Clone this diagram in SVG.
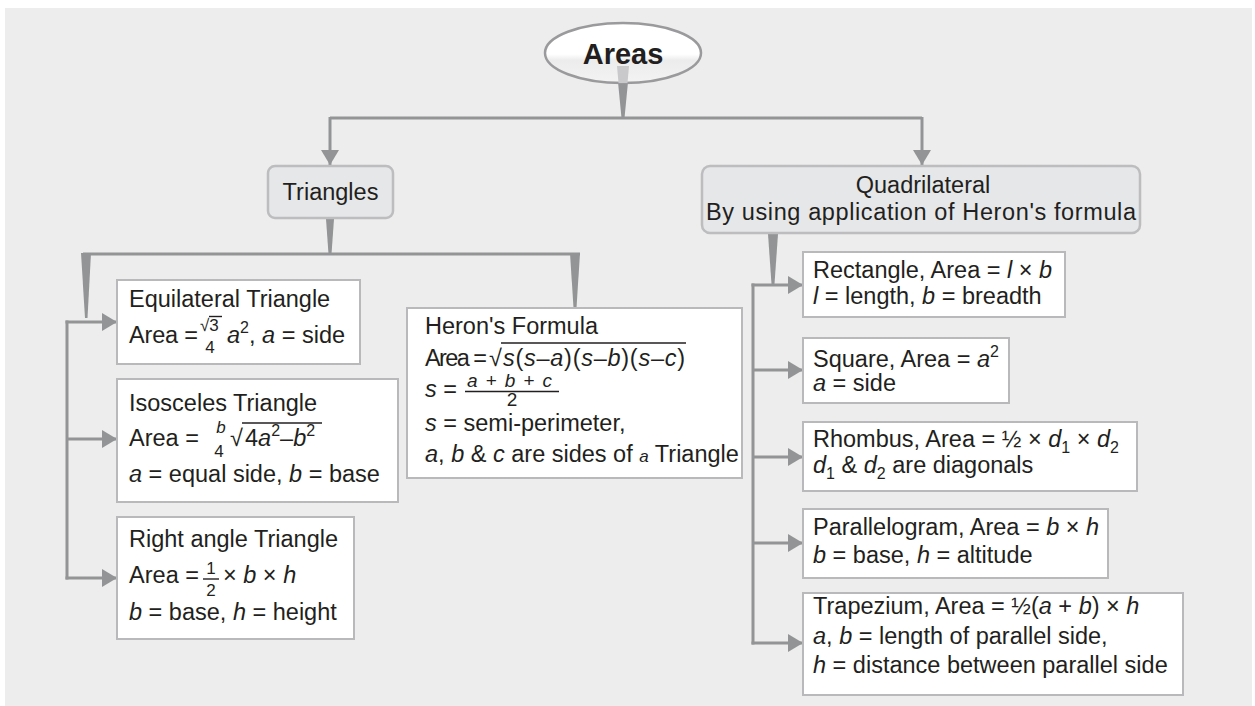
<svg xmlns="http://www.w3.org/2000/svg" width="1255" height="706" viewBox="0 0 1255 706">
  <style>
    .t { font-family: "Liberation Sans", Arial, Helvetica, sans-serif; font-size: 23.5px; fill: #231f20; }
    .i { font-style: italic; }
    .sm { font-size: 16px; }
    .fr { font-size: 17px; }
    .fr19 { font-size: 19px; }
    .root { font-size: 29px; font-weight: bold; }
    .box { fill: #ffffff; stroke: #b9b9bb; stroke-width: 2; }
    .rbox { fill: #e6e7e9; stroke: #bdbdbf; stroke-width: 2.5; }
    .ln { fill: none; stroke: #939496; stroke-width: 3; }
    .arr { fill: none; stroke: #939496; stroke-width: 3; marker-end: url(#head); }
    .wedge { fill: #939496; }
    .bar { stroke: #231f20; stroke-width: 1.4; }
  </style>
  <defs>
    <marker id="head" markerUnits="userSpaceOnUse" markerWidth="16" markerHeight="18" refX="15" refY="9" orient="auto">
      <path d="M0,0 L15,9 L0,18 Z" fill="#939496"/>
    </marker>
    <linearGradient id="gloss" x1="0" y1="0" x2="0" y2="1">
      <stop offset="0" stop-color="#ffffff"/>
      <stop offset="0.52" stop-color="#ffffff"/>
      <stop offset="0.62" stop-color="#ececec"/>
      <stop offset="1" stop-color="#f3f3f3"/>
    </linearGradient>
  </defs>

  <!-- panel -->
  <rect x="0" y="0" width="1255" height="706" fill="#ffffff"/>
  <rect x="5" y="8" width="1247" height="698" fill="#ededed"/>

  <!-- connectors -->
  <g id="connectors">
    <!-- root to level one -->
    <polygon class="wedge" points="618,82 628,82 624.5,118 621.5,118"/>
    <path class="ln" d="M330,118 H922"/>
    <path class="arr" d="M330,117 V165"/>
    <path class="arr" d="M922,117 V165"/>
    <!-- triangles branch -->
    <polygon class="wedge" points="326,219 334,219 331.5,254 328.5,254"/>
    <path class="ln" d="M83,254 H580"/>
    <polygon class="wedge" points="81,253 91,253 87.5,318 85,318"/>
    <polygon class="wedge" points="570,253 580,253 576.5,308 573.5,308"/>
    <path class="ln" d="M67,320.5 V579.5"/>
    <path class="arr" d="M65.5,322 H117"/>
    <path class="arr" d="M67,439 H117"/>
    <path class="arr" d="M65.5,578 H117"/>
    <!-- quadrilateral branch -->
    <polygon class="wedge" points="768,234 778,234 774.5,284 771.5,284"/>
    <path class="ln" d="M753,283.5 V644.5"/>
    <path class="arr" d="M751.5,285 H803"/>
    <path class="arr" d="M753,370 H803"/>
    <path class="arr" d="M753,457 H803"/>
    <path class="arr" d="M753,543 H803"/>
    <path class="arr" d="M751.5,643 H803"/>
  </g>

  <!-- root -->
  <g id="areas">
    <ellipse cx="623" cy="53" rx="78" ry="30" fill="url(#gloss)" stroke="#9a9a9c" stroke-width="2.5"/>
    <polygon points="617,66 629,66 627.5,83 618.5,83" fill="#c9c9cb"/>
    <text class="t root" x="623" y="64" text-anchor="middle">Areas</text>
  </g>

  <g id="triangles">
    <rect class="rbox" x="268" y="166" width="125" height="52" rx="7"/>
    <text class="t" x="330.5" y="200" text-anchor="middle">Triangles</text>
  </g>

  <g id="quadrilateral">
    <rect class="rbox" x="702" y="166" width="438" height="67" rx="8"/>
    <text class="t" x="923" y="193" text-anchor="middle">Quadrilateral</text>
    <text class="t" x="921" y="220" text-anchor="middle" textLength="430" lengthAdjust="spacing">By using application of Heron's formula</text>
  </g>

  <!-- triangle kinds -->
  <g id="equilateral">
    <rect class="box" x="117" y="280" width="243" height="84"/>
    <text class="t" x="129" y="307">Equilateral Triangle</text>
    <text class="t" x="129" y="343" textLength="69" lengthAdjust="spacing">Area =</text>
    <text class="t fr" x="200" y="331">√3</text>
    <line class="bar" x1="209" y1="316.5" x2="222" y2="316.5" stroke-width="1"/>
    <text class="t fr" x="210" y="353" text-anchor="middle">4</text>
    <text class="t" x="227" y="343"><tspan class="i">a</tspan><tspan class="sm" dy="-10">2</tspan><tspan dy="10">, </tspan><tspan class="i">a</tspan> = side</text>
  </g>

  <g id="isosceles">
    <rect class="box" x="117" y="379" width="281" height="123"/>
    <text class="t" x="129" y="411">Isosceles Triangle</text>
    <text class="t" x="129" y="446">Area =</text>
    <text class="t fr i" x="221" y="433" text-anchor="middle">b</text>
    <text class="t fr" x="219" y="457" text-anchor="middle">4</text>
    <text class="t" x="230" y="446">√</text>
    <line class="bar" x1="242" y1="423" x2="322" y2="423" stroke-width="1.2"/>
    <text class="t" x="245" y="446">4<tspan class="i">a</tspan><tspan class="sm" dy="-10">2</tspan><tspan dy="10">–</tspan><tspan class="i">b</tspan><tspan class="sm" dy="-10">2</tspan></text>
    <text class="t" x="129" y="482"><tspan class="i">a</tspan> = equal side, <tspan class="i">b</tspan> = base</text>
  </g>

  <g id="right-angle">
    <rect class="box" x="117" y="517" width="237" height="122"/>
    <text class="t" x="129" y="547">Right angle Triangle</text>
    <text class="t" x="129" y="583" textLength="70" lengthAdjust="spacing">Area =</text>
    <text class="t fr" x="211" y="574" text-anchor="middle">1</text>
    <line class="bar" x1="203" y1="579" x2="219" y2="579"/>
    <text class="t fr" x="211" y="596" text-anchor="middle">2</text>
    <text class="t" x="223" y="583">× <tspan class="i">b</tspan> × <tspan class="i">h</tspan></text>
    <text class="t" x="129" y="620"><tspan class="i">b</tspan> = base, <tspan class="i">h</tspan> = height</text>
  </g>

  <g id="heron">
    <rect class="box" x="407" y="308" width="335" height="170"/>
    <text class="t" x="425" y="334">Heron's Formula</text>
    <text class="t" x="425" y="366" textLength="62" lengthAdjust="spacing">Area =</text>
    <text class="t" x="489" y="366">√</text>
    <line class="bar" x1="501" y1="343" x2="686" y2="343" stroke-width="1.2"/>
    <text class="t" x="503" y="366" textLength="182" lengthAdjust="spacing"><tspan class="i">s</tspan>(<tspan class="i">s</tspan>–<tspan class="i">a</tspan>)(<tspan class="i">s</tspan>–<tspan class="i">b</tspan>)(<tspan class="i">s</tspan>–<tspan class="i">c</tspan>)</text>
    <text class="t" x="425" y="397"><tspan class="i">s</tspan> =</text>
    <text class="t i fr19" x="467" y="387" textLength="85" lengthAdjust="spacing">a + b + c</text>
    <line class="bar" x1="465" y1="391.5" x2="559" y2="391.5"/>
    <text class="t fr19" x="512" y="405.5" text-anchor="middle">2</text>
    <text class="t" x="425" y="431"><tspan class="i">s</tspan> = semi-perimeter,</text>
    <text class="t" x="425" y="462"><tspan class="i">a</tspan>, <tspan class="i">b</tspan> &amp; <tspan class="i">c</tspan> are sides of <tspan class="i fr">a</tspan> Triangle</text>
  </g>

  <!-- quadrilateral kinds -->
  <g id="rectangle">
    <rect class="box" x="803" y="252" width="262" height="65"/>
    <text class="t" x="813" y="278">Rectangle, Area = <tspan class="i">l</tspan> × <tspan class="i">b</tspan></text>
    <text class="t" x="813" y="304"><tspan class="i">l</tspan> = length, <tspan class="i">b</tspan> = breadth</text>
  </g>

  <g id="square">
    <rect class="box" x="803" y="338" width="206" height="65"/>
    <text class="t" x="813" y="367">Square, Area = <tspan class="i">a</tspan><tspan class="sm" dy="-10">2</tspan></text>
    <text class="t" x="813" y="391"><tspan class="i">a</tspan> = side</text>
  </g>

  <g id="rhombus">
    <rect class="box" x="803" y="422" width="334" height="69"/>
    <text class="t" x="813" y="447">Rhombus, Area = ½ × <tspan class="i">d</tspan><tspan class="sm" dy="6">1</tspan><tspan dy="-6"> × </tspan><tspan class="i">d</tspan><tspan class="sm" dy="6">2</tspan></text>
    <text class="t" x="813" y="473"><tspan class="i">d</tspan><tspan class="sm" dy="6">1</tspan><tspan dy="-6"> &amp; </tspan><tspan class="i">d</tspan><tspan class="sm" dy="6">2</tspan><tspan dy="-6"> are diagonals</tspan></text>
  </g>

  <g id="parallelogram">
    <rect class="box" x="803" y="509" width="305" height="69"/>
    <text class="t" x="813" y="535">Parallelogram, Area = <tspan class="i">b</tspan> × <tspan class="i">h</tspan></text>
    <text class="t" x="813" y="563"><tspan class="i">b</tspan> = base, <tspan class="i">h</tspan> = altitude</text>
  </g>

  <g id="trapezium">
    <rect class="box" x="803" y="593" width="380" height="102"/>
    <text class="t" x="813" y="614">Trapezium, Area = ½(<tspan class="i">a</tspan> + <tspan class="i">b</tspan>) × <tspan class="i">h</tspan></text>
    <text class="t" x="813" y="644"><tspan class="i">a</tspan>, <tspan class="i">b</tspan> = length of parallel side,</text>
    <text class="t" x="813" y="673"><tspan class="i">h</tspan> = distance between parallel side</text>
  </g>
</svg>
